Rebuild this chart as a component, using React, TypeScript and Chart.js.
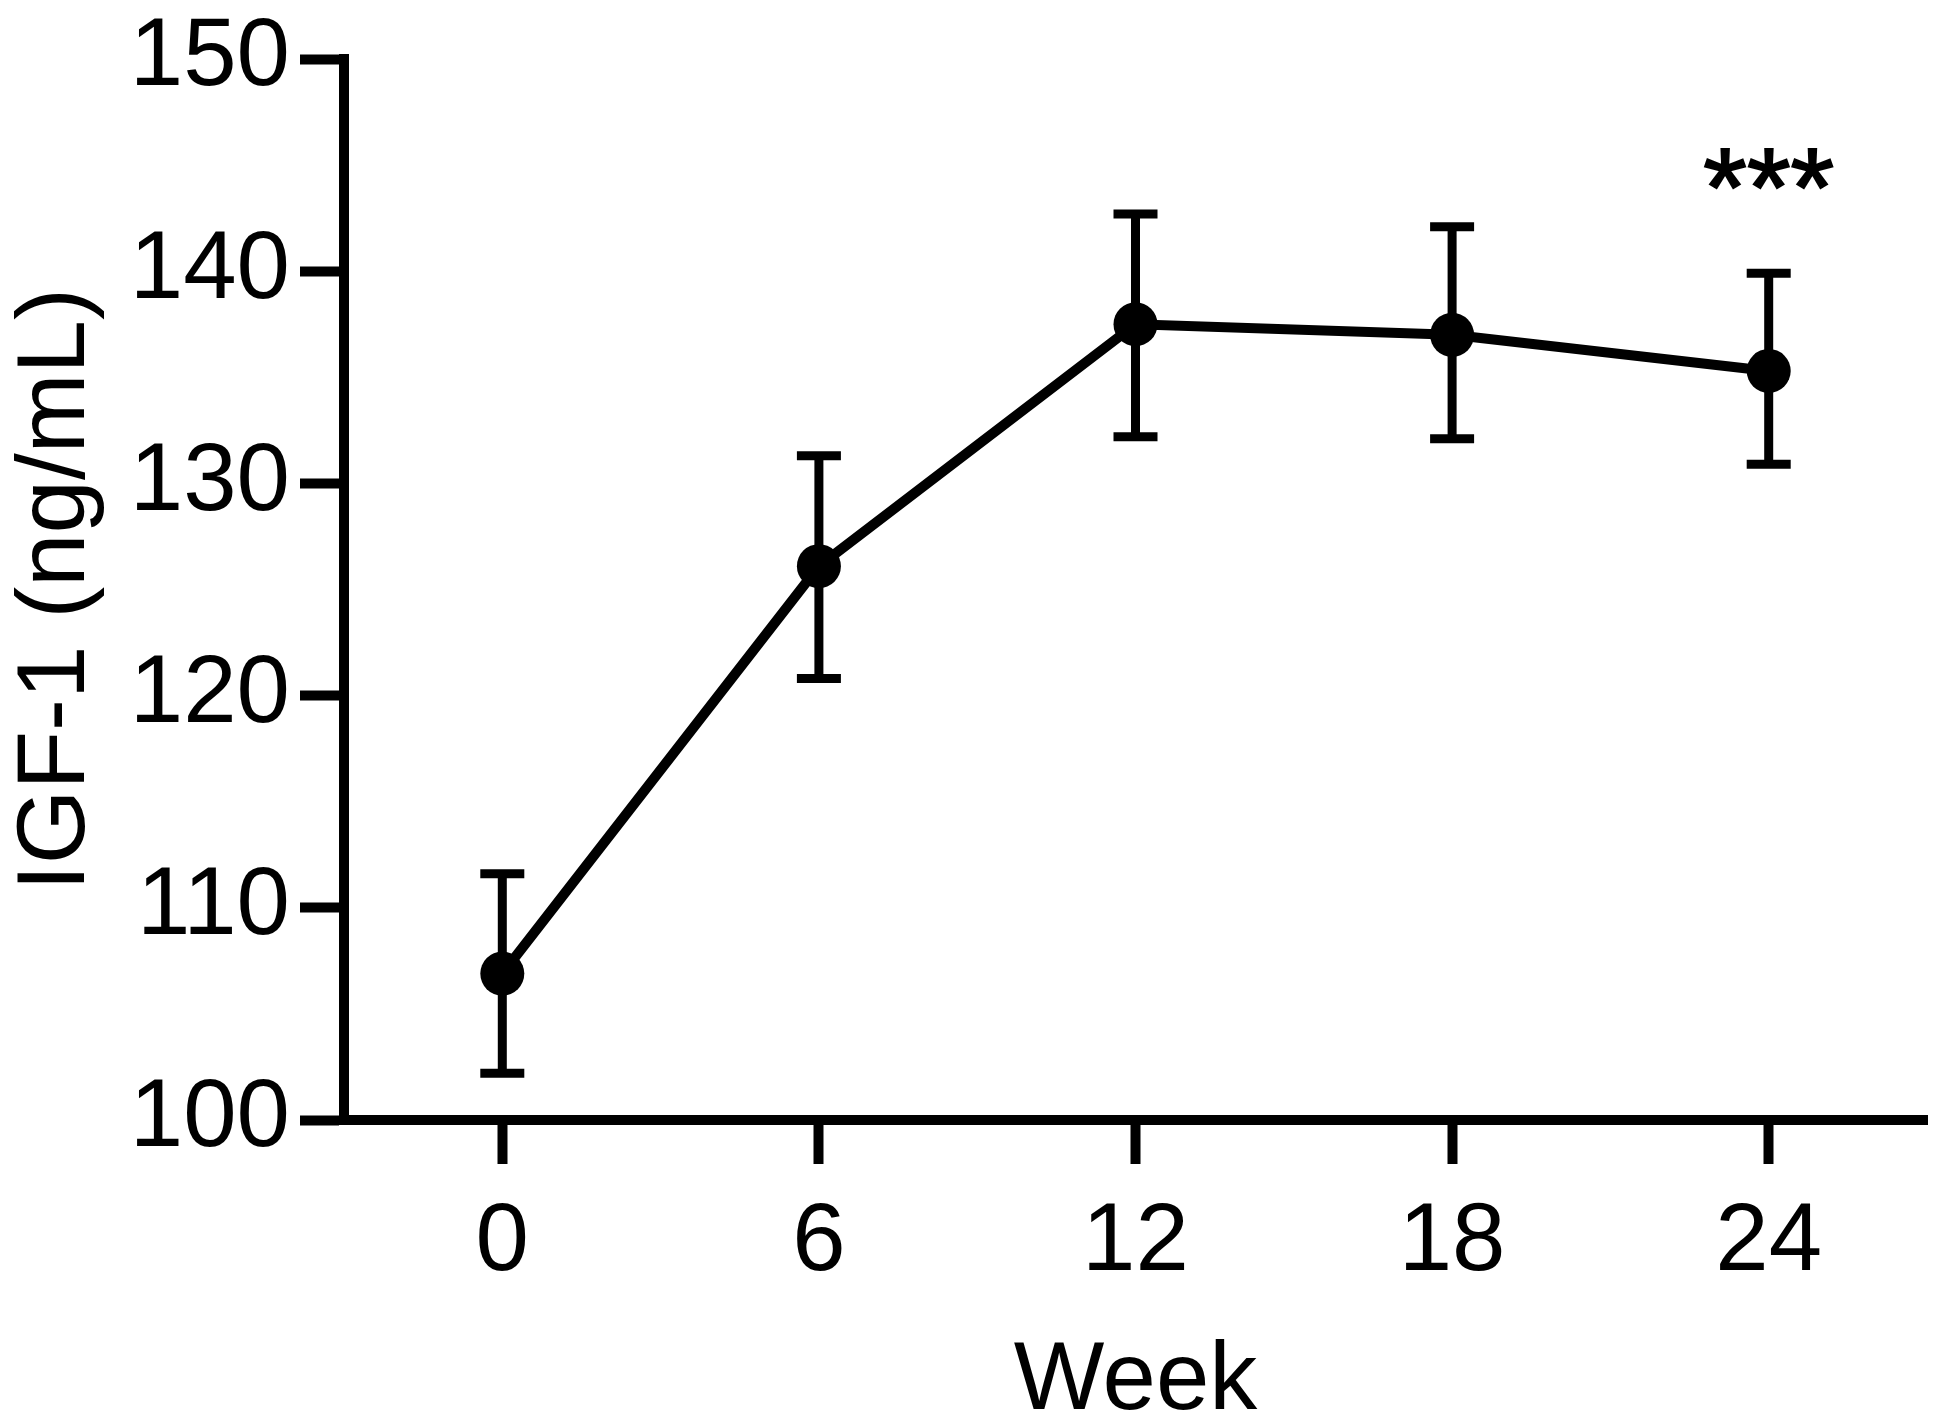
import React, { useEffect, useRef } from "react";
import { Chart, registerables } from "chart.js";

Chart.register(...registerables);

const weeks = [0, 6, 12, 18, 24];
const means = [106.9, 126.1, 137.5, 137.0, 135.3];
const upperErr = [111.6, 131.3, 142.7, 142.1, 139.9];
const lowerErr = [102.2, 120.8, 132.2, 132.1, 130.9];
const yTicks = [100, 110, 120, 130, 140, 150];
const sigLabel = "***";
const sigWeek = 24;
const sigValue = 144.9;

const FONT = "'Liberation Sans', Arimo, Arial, sans-serif";
const FSIZE = 96;

const errorBarPlugin = {
  id: "errorBars",
  afterDatasetsDraw(chart: any) {
    const { ctx, scales } = chart;
    const xs = scales.x;
    const ys = scales.y;
    ctx.save();
    ctx.strokeStyle = "#000";
    ctx.lineWidth = 9;
    ctx.lineCap = "butt";
    const cap = 22;
    weeks.forEach((w, i) => {
      const x = xs.getPixelForValue(w);
      const yu = ys.getPixelForValue(upperErr[i]);
      const yl = ys.getPixelForValue(lowerErr[i]);
      ctx.beginPath();
      ctx.moveTo(x, yu);
      ctx.lineTo(x, yl);
      ctx.moveTo(x - cap, yu);
      ctx.lineTo(x + cap, yu);
      ctx.moveTo(x - cap, yl);
      ctx.lineTo(x + cap, yl);
      ctx.stroke();
    });
    ctx.fillStyle = "#000";
    ctx.strokeStyle = "#000";
    ctx.lineWidth = 2;
    ctx.font = `112px ${FONT}`;
    ctx.textAlign = "center";
    ctx.textBaseline = "middle";
    const sx = xs.getPixelForValue(sigWeek);
    const sy = ys.getPixelForValue(sigValue) + 28;
    ctx.fillText(sigLabel, sx, sy);
    ctx.strokeText(sigLabel, sx, sy);
    ctx.restore();
  },
};

export default function App() {
  const ref = useRef<HTMLCanvasElement | null>(null);
  useEffect(() => {
    document.body.style.margin = "0";
    const canvas = ref.current;
    if (!canvas) return;
    const chart = new Chart(canvas, {
      type: "line",
      data: {
        datasets: [
          {
            data: weeks.map((w, i) => ({ x: w, y: means[i] })),
            borderColor: "#000",
            backgroundColor: "#000",
            borderWidth: 10,
            pointRadius: 22,
            pointBackgroundColor: "#000",
            pointBorderWidth: 0,
            tension: 0,
          },
        ],
      },
      options: {
        animation: false,
        responsive: true,
        maintainAspectRatio: false,
        devicePixelRatio: 1,
        layout: { padding: { top: 59, right: 7, left: 0, bottom: 0 } },
        plugins: {
          legend: { display: false },
          tooltip: { enabled: false },
          title: { display: false },
        },
        scales: {
          x: {
            type: "linear",
            min: -3,
            max: 27,
            afterBuildTicks: (scale: any) => {
              scale.ticks = weeks.map((v) => ({ value: v }));
            },
            afterFit: (scale: any) => {
              scale.height = 302;
            },
            grid: {
              display: true,
              drawOnChartArea: false,
              drawTicks: true,
              tickLength: 44,
              tickWidth: 10,
              tickColor: "#000",
            },
            border: { display: true, color: "#000", width: 10 },
            ticks: {
              color: "#000",
              font: { family: FONT, size: FSIZE, lineHeight: 1 },
              padding: 32,
              maxRotation: 0,
              autoSkip: false,
            },
            title: {
              display: true,
              text: "Week",
              color: "#000",
              font: { family: FONT, size: FSIZE },
              padding: { top: 0, bottom: -18 },
            },
          },
          y: {
            type: "linear",
            min: 100,
            max: 150,
            afterBuildTicks: (scale: any) => {
              scale.ticks = yTicks.map((v) => ({ value: v }));
            },
            afterFit: (scale: any) => {
              scale.width = 344;
            },
            grid: {
              display: true,
              drawOnChartArea: false,
              drawTicks: true,
              tickLength: 44,
              tickWidth: 10,
              tickColor: "#000",
            },
            border: { display: true, color: "#000", width: 10 },
            ticks: {
              color: "#000",
              font: { family: FONT, size: FSIZE, lineHeight: 1 },
              padding: 10,
            },
            title: {
              display: true,
              text: "IGF-1 (ng/mL)",
              color: "#000",
              font: { family: FONT, size: FSIZE },
              padding: { top: 0, bottom: 0 },
            },
          },
        },
      },
      plugins: [errorBarPlugin],
    });
    return () => chart.destroy();
  }, []);
  return (
    <div style={{ position: "fixed", left: 0, top: 0, width: "1949px", height: "1422px", background: "#fff" }}>
      <canvas ref={ref} />
    </div>
  );
}
